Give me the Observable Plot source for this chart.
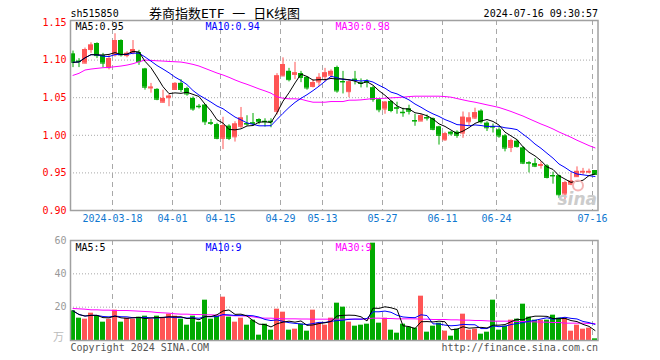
<!DOCTYPE html>
<html><head><meta charset="utf-8">
<script src="https://cdn.jsdelivr.net/npm/d3@7"></script>
<script src="https://cdn.jsdelivr.net/npm/@observablehq/plot@0.6"></script>
<style>
html,body{margin:0;padding:0;background:#fff;}
#wrap{position:relative;width:660px;height:360px;overflow:hidden;background:#fff;}
#main,#vol{position:absolute;left:0;}
#main{top:0px}
#vol{top:230px}
</style></head><body><div id="wrap"><div id="main"></div><div id="vol"></div></div>
<script>
// ---- data (index 0 = 2024-03-07 ... 87 = 2024-07-16) ----
const open = [1.108,1.0985,1.096,1.114,1.122,1.106,1.090,1.107,1.126,1.106,
1.110,1.110,1.088,1.063,1.061,1.044,1.050,1.061,1.069,1.062,
1.049,1.0385,1.040,1.0165,1.014,0.996,1.012,0.998,1.012,1.0155,
1.0165,1.021,1.0185,1.0185,1.032,1.079,1.085,1.081,1.082,1.077,
1.065,1.071,1.078,1.080,1.090,1.0715,1.058,1.0745,1.0695,1.0715,
1.063,1.047,1.035,1.045,1.0365,1.0305,1.035,1.0195,1.019,1.0235,
1.022,1.011,0.994,1.004,1.004,1.003,1.018,1.023,1.032,1.016,
1.0115,1.007,0.999,0.984,0.992,0.983,0.9635,0.962,0.960,0.959,
0.9465,0.946,0.922,0.935,0.945,0.951,0.951,0.953];
const high = [1.112,1.102,1.116,1.123,1.123,1.109,1.107,1.135,1.127,1.111,
1.126,1.113,1.089,1.069,1.062,1.060,1.054,1.070,1.074,1.064,
1.051,1.041,1.041,1.021,1.016,1.024,1.014,1.018,1.037,1.026,
1.029,1.022,1.022,1.022,1.082,1.103,1.089,1.097,1.085,1.078,
1.074,1.082,1.089,1.087,1.092,1.085,1.074,1.085,1.075,1.074,
1.065,1.048,1.045,1.046,1.044,1.036,1.040,1.028,1.028,1.027,
1.023,1.012,1.004,1.005,1.006,1.031,1.030,1.036,1.034,1.018,
1.015,1.010,1.001,0.995,0.994,0.985,0.965,0.969,0.965,0.961,
0.951,0.947,0.939,0.950,0.958,0.956,0.955,0.953];
const low = [1.090,1.090,1.095,1.109,1.102,1.090,1.087,1.104,1.104,1.103,
1.107,1.093,1.060,1.056,1.046,1.043,1.038,1.060,1.057,1.052,
1.032,1.035,1.013,1.013,0.994,0.981,0.993,0.991,1.009,1.012,
1.012,1.014,1.011,1.010,1.027,1.078,1.071,1.074,1.070,1.060,
1.063,1.065,1.071,1.076,1.056,1.055,1.050,1.067,1.063,1.063,
1.044,1.030,1.028,1.030,1.028,1.024,1.027,1.012,1.018,1.019,
1.006,0.987,0.992,0.999,0.996,0.996,1.013,1.021,1.015,1.005,
1.003,0.996,0.978,0.977,0.983,0.961,0.950,0.957,0.955,0.942,
0.935,0.916,0.914,0.933,0.944,0.947,0.949,0.948];
const close = [1.097,1.098,1.114,1.120,1.106,1.096,1.102,1.126,1.107,1.109,
1.114,1.098,1.064,1.064,1.048,1.049,1.052,1.069,1.061,1.055,
1.035,1.038,1.018,1.016,0.996,1.013,0.996,1.015,1.023,1.015,
1.016,1.018,1.018,1.018,1.079,1.094,1.074,1.083,1.077,1.063,
1.070,1.077,1.083,1.085,1.059,1.071,1.071,1.074,1.069,1.071,
1.048,1.034,1.044,1.033,1.036,1.030,1.032,1.019,1.026,1.023,
1.008,1.000,1.002,1.002,1.000,1.024,1.023,1.030,1.018,1.010,
1.011,0.999,0.983,0.993,0.985,0.963,0.963,0.959,0.961,0.944,
0.946,0.921,0.937,0.939,0.952,0.952,0.952,0.948];
const ma30 = [1.0797,1.0824,1.0868,1.0881,1.0890,1.0899,1.0903,1.0912,1.0921,1.0934,
1.0952,1.0978,1.1000,1.0996,1.0991,1.0987,1.0982,1.0978,1.0974,1.0960,
1.0943,1.0921,1.0890,1.0859,1.0828,1.0802,1.0771,1.0736,1.0705,1.0678,
1.0648,1.0617,1.0590,1.0560,1.0511,1.0493,1.0485,1.0485,1.0480,1.0458,
1.0440,1.0440,1.0440,1.0449,1.0449,1.0449,1.0467,1.0467,1.0471,1.0480,
1.0489,1.0489,1.0493,1.0498,1.0502,1.0507,1.0515,1.0520,1.0520,1.0520,
1.0520,1.0520,1.0515,1.0507,1.0489,1.0471,1.0454,1.0440,1.0423,1.0405,
1.0388,1.0370,1.0344,1.0317,1.0286,1.0256,1.0220,1.0185,1.0150,1.0119,
1.0084,1.0044,1.0009,0.9974,0.9934,0.9899,0.9863,0.9833];
const volume = [17.8,13.4,12.8,16.4,15.0,11.0,12.8,18.2,11.0,13.4,
12.8,14.0,14.6,12.8,14.6,13.4,15.8,14.6,12.8,9.2,
14.6,11.0,24.2,12.8,14.6,26.0,14.0,11.0,13.4,9.2,
12.2,3.2,9.8,6.2,18.8,17.0,6.2,6.8,9.8,5.6,
18.2,10.4,9.2,13.4,22.4,20.0,11.0,8.6,9.2,9.8,
58.4,10.4,13.4,6.2,4.4,9.8,8.0,7.4,26.6,5.0,
8.6,10.4,5.6,2.6,6.8,15.8,6.2,6.8,3.8,5.0,
24.2,6.2,8.6,12.2,12.8,21.8,14.0,12.2,12.2,12.2,
15.2,13.4,13.4,5.6,9.2,6.8,7.4,1.0];
const volMa30 = [19.2,19.0,18.8,18.4,18.4,18.2,18.2,18.0,18.0,18.0,
17.8,17.6,17.4,17.2,16.8,16.6,16.4,16.0,15.8,15.8,
15.6,15.6,15.4,15.4,15.2,15.2,15.0,14.8,14.8,14.6,
14.2,13.6,13.4,13.4,13.2,13.0,13.0,13.0,12.9,12.9,
12.8,12.8,12.8,12.8,12.8,12.8,12.8,12.8,12.8,13.0,
13.4,13.4,13.2,13.2,13.0,13.0,13.0,13.0,12.8,12.8,
12.6,12.6,12.6,12.4,12.4,12.2,12.2,12.0,12.0,11.8,
11.6,11.6,11.6,11.6,11.4,11.4,11.2,11.2,11.0,11.0,
10.8,10.8,10.4,10.4,10.4,10.4,10.2,10.2];
const tickIdx = [7,17,25,35,42,52,62,71,87];
const tickLabels = ["2024-03-18","04-01","04-15","04-29","05-13","05-27","06-11","06-24","07-16"];
const priceTicks = [0.90,0.95,1.00,1.05,1.10,1.15];
const priceGrid = [0.95,1.00,1.05,1.10];
const volTicks = [20,40,60];
const volGrid = [20,40];
const maLabels = ["MA5:0.95","MA10:0.94","MA30:0.98"];
const volMaLabels = ["MA5:5","MA10:9","MA30:9"];
const code = "sh515850";
const title = "券商指数ETF 一 日K线图";
const stamp = "2024-07-16 09:30:57";
const copyL = "Copyright 2024 SINA.COM";
const copyR = "http://finance.sina.com.cn";
const unitLabel = "万";

// ---- styles ----
const UP = "#ff5555", DOWN = "#00aa00";
const MA_COL = ["#000000", "#0000ff", "#ff00ff"];
const GRID = "#a8a8a8";
const MONO = "DejaVu Sans Mono, Noto Sans CJK SC, monospace";

const data = close.map((c, i) => ({
  i, open: open[i], high: high[i], low: low[i], close: c,
  vol: volume[i], ma30: ma30[i], vma30: volMa30[i],
  col: c >= open[i] ? UP : DOWN
}));
const ticks = tickIdx.map((i, k) => ({i, label: tickLabels[k]}));
const hw = 2.5 / 6;
const xOpt = {domain: [-2.5 / 6, 87.5], axis: null};

const common = {
  width: 660, marginLeft: 70, marginRight: 62.5,
  style: {fontFamily: MONO, fontSize: "10px", background: "transparent", overflow: "visible"},
  color: {type: "identity"}
};

const mainPlot = Plot.plot({
  ...common,
  height: 230, marginTop: 20, marginBottom: 20,
  x: xOpt,
  y: {domain: [0.90, 0.90 + 190 / 752], axis: null},
  marks: [
    Plot.ruleY(priceGrid, {stroke: GRID, strokeDasharray: "1,2"}),
    Plot.ruleX(ticks, {x: "i", dx: -2.5, stroke: GRID, strokeDasharray: "5,4"}),
    Plot.ruleX(data, {x: "i", y1: "low", y2: "high", stroke: "col"}),
    Plot.rect(data, {x1: d => d.i - hw, x2: d => d.i + hw, y1: "open", y2: "close", fill: "col"}),
    Plot.ruleY(data, {y: "close", x1: d => d.i - hw, x2: d => d.i + hw, stroke: "col"}),
    Plot.ruleY(data, {y: "open", x1: d => d.i - hw, x2: d => d.i + hw, stroke: "col"}),
    Plot.line(data, {x: "i", y: "ma30", stroke: MA_COL[2], strokeWidth: 1}),
    Plot.lineY(data, Plot.windowY({k: 10, anchor: "end", strict: false}, {x: "i", y: "close", stroke: MA_COL[1], strokeWidth: 1})),
    Plot.lineY(data, Plot.windowY({k: 5, anchor: "end", strict: false}, {x: "i", y: "close", stroke: MA_COL[0], strokeWidth: 1})),
    Plot.frame({stroke: "#a0a0a0", strokeWidth: 1.5}),
    Plot.text(priceTicks, {y: d => d, text: d => d.toFixed(2), frameAnchor: "left", dx: -4, textAnchor: "end", fill: "#ff0000", fontSize: 10}),
    Plot.text(ticks, {x: "i", text: "label", dx: -2.5, frameAnchor: "bottom", dy: 11, fill: "#1078d0", fontSize: 10}),
    Plot.text([maLabels[0]], {frameAnchor: "top-left", dx: 5, dy: 9.5, lineAnchor: "bottom", textAnchor: "start", fill: MA_COL[0], fontSize: 10}),
    Plot.text([maLabels[1]], {frameAnchor: "top-left", dx: 135, dy: 9.5, lineAnchor: "bottom", textAnchor: "start", fill: MA_COL[1], fontSize: 10}),
    Plot.text([maLabels[2]], {frameAnchor: "top-left", dx: 265, dy: 9.5, lineAnchor: "bottom", textAnchor: "start", fill: MA_COL[2], fontSize: 10}),
    Plot.text([code], {frameAnchor: "top-left", dy: -3.5, lineAnchor: "bottom", textAnchor: "start", fill: "#000", fontSize: 10}),
    Plot.text([title], {frameAnchor: "top-left", dx: 154, dy: -3, lineAnchor: "bottom", textAnchor: "middle", fill: "#000", fontSize: 13}),
    Plot.text([stamp], {frameAnchor: "top-right", dy: -3.5, lineAnchor: "bottom", textAnchor: "end", fill: "#000", fontSize: 10}),
    Plot.dot([0], {frameAnchor: "bottom-right", dx: -20, dy: -25, r: 5, stroke: "#f3b4b4", strokeWidth: 2, fill: "none"}),
    Plot.text(["sina"], {frameAnchor: "bottom-right", dx: -1, dy: -6, textAnchor: "end", fontSize: 17, fontWeight: "bold", fontStyle: "italic", fontFamily: "DejaVu Sans", fill: "#cccccc"})
  ]
});
document.getElementById("main").appendChild(mainPlot);

const volPlot = Plot.plot({
  ...common,
  height: 130, marginTop: 10, marginBottom: 20,
  x: xOpt,
  y: {domain: [0, 60], axis: null},
  marks: [
    Plot.ruleY(volGrid, {stroke: GRID, strokeDasharray: "1,2"}),
    Plot.ruleX(ticks, {x: "i", dx: -2.5, stroke: GRID, strokeDasharray: "5,4"}),
    Plot.rect(data, {x1: d => d.i - hw, x2: d => d.i + hw, y1: 0, y2: "vol", fill: "col"}),
    Plot.line(data, {x: "i", y: "vma30", stroke: MA_COL[2], strokeWidth: 1}),
    Plot.lineY(data, Plot.windowY({k: 10, anchor: "end", strict: false}, {x: "i", y: "vol", stroke: MA_COL[1], strokeWidth: 1})),
    Plot.lineY(data, Plot.windowY({k: 5, anchor: "end", strict: false}, {x: "i", y: "vol", stroke: MA_COL[0], strokeWidth: 1})),
    Plot.frame({stroke: "#a0a0a0", strokeWidth: 1.5}),
    Plot.text(volTicks, {y: d => d, text: d => String(d), frameAnchor: "left", dx: -4, textAnchor: "end", fill: "#999999", fontSize: 10}),
    Plot.text([unitLabel], {frameAnchor: "bottom-left", dx: -12, dy: 0, textAnchor: "middle", fill: "#bbbbbb", fontSize: 11}),
    Plot.text([volMaLabels[0]], {frameAnchor: "top-left", dx: 5, dy: 10, lineAnchor: "bottom", textAnchor: "start", fill: MA_COL[0], fontSize: 10}),
    Plot.text([volMaLabels[1]], {frameAnchor: "top-left", dx: 135, dy: 10, lineAnchor: "bottom", textAnchor: "start", fill: MA_COL[1], fontSize: 10}),
    Plot.text([volMaLabels[2]], {frameAnchor: "top-left", dx: 265, dy: 10, lineAnchor: "bottom", textAnchor: "start", fill: MA_COL[2], fontSize: 10}),
    Plot.text([copyL], {frameAnchor: "bottom-left", dy: 10, lineAnchor: "bottom", textAnchor: "start", fill: "#555555", fontSize: 10}),
    Plot.text([copyR], {frameAnchor: "bottom-right", dy: 10, lineAnchor: "bottom", textAnchor: "end", fill: "#555555", fontSize: 10})
  ]
});
document.getElementById("vol").appendChild(volPlot);
</script>
</body></html>
